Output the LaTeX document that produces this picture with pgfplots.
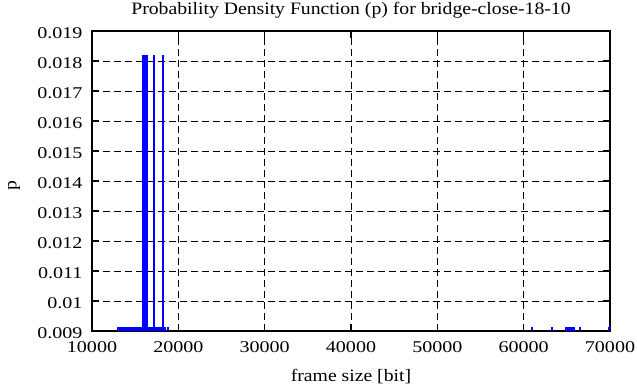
\documentclass[border=0pt]{standalone}
\usepackage{pgfplots}
\pgfplotsset{compat=1.18}
\usepackage{fontspec}
\setmainfont{Liberation Serif}
\newfontfamily\tickfont[FakeStretch=1.22]{Liberation Serif}
\newfontfamily\labfont[FakeStretch=1.13]{Liberation Serif}
\begin{document}
\begin{tikzpicture}
\begin{axis}[
  scale only axis,
  width=518bp, height=300bp,
  xmin=10000, xmax=70000,
  ymin=0.009, ymax=0.019,
  scaled ticks=false,
  /pgf/number format/assume math mode=true,
  xtick={10000,20000,30000,40000,50000,60000,70000},
  xticklabels={10000,20000,30000,40000,50000,60000,70000},
  ytick={0.009,0.010,0.011,0.012,0.013,0.014,0.015,0.016,0.017,0.018,0.019},
  yticklabels={0.009,0.01,0.011,0.012,0.013,0.014,0.015,0.016,0.017,0.018,0.019},
  tick align=inside,
  major tick length=7bp,
  tick style={line width=1.5bp, black},
  axis line style={line width=2bp},
  grid=major,
  major grid style={black, line width=0.9bp, dash pattern=on 7bp off 4bp},
  tick label style={font=\tickfont\fontsize{16.5}{18}\selectfont},
  label style={font=\labfont\fontsize{17.5}{19}\selectfont},
  every axis title shift=0pt,
  title style={font=\labfont\fontsize{17.5}{19}\selectfont, at={(axis description cs:0.5,1)}, anchor=base, yshift=16bp},
  title={Probability Density Function (p) for bridge-close-18-10},
  xlabel={frame size [bit]},
  ylabel={p},
  xlabel style={at={(axis description cs:0.5,0)}, anchor=base, yshift=-50bp},
  ylabel style={at={(axis description cs:0,0.5)}, anchor=center, yshift=78bp, xshift=-5bp},
  xticklabel style={anchor=center, yshift=-16.5bp},
  yticklabel style={xshift=-6bp, yshift=-2bp},
  clip=true,
]
% main spikes
\addplot[ycomb, blue, line width=2bp, mark=none] coordinates {
 (15950,0.0182) (16050,0.0182) (16150,0.0182) (16250,0.0182) (16350,0.0182)
 (17180,0.0182) (18220,0.0182)
};
% small values (near the bottom edge)
\addplot[ycomb, blue, line width=2bp, mark=none] coordinates {
 (13050,0.00912) (13150,0.00912) (13250,0.00912) (13350,0.00912) (13450,0.00912)
 (13550,0.00912) (13650,0.00912) (13750,0.00912) (13850,0.00912) (13950,0.00912)
 (14050,0.00912) (14150,0.00912) (14250,0.00912) (14350,0.00912) (14450,0.00912)
 (14550,0.00912) (14650,0.00912) (14750,0.00912) (14850,0.00912) (14950,0.00912)
 (15050,0.00912) (15150,0.00912) (15250,0.00912) (15350,0.00912) (15450,0.00912)
 (15550,0.00912) (15650,0.00912) (15750,0.00912) (15850,0.00912)
 (16450,0.00912) (16550,0.00912) (16650,0.00912) (16750,0.00912) (16850,0.00912)
 (16950,0.00912) (17050,0.00912) (17250,0.00912) (17350,0.00912) (17450,0.00912)
 (17550,0.00912) (17650,0.00912) (17750,0.00912) (17850,0.00912) (17950,0.00912)
 (18050,0.00912) (18150,0.00912) (18300,0.00912) (18400,0.00912) (18750,0.00912)
 (60930,0.00912) (63250,0.00912)
 (64900,0.00912) (65000,0.00912) (65100,0.00912) (65200,0.00912)
 (65480,0.00912) (65580,0.00912) (65680,0.00912) (65800,0.00912)
 (66530,0.00912) (69920,0.00912)
};
\end{axis}
\pgfresetboundingbox
\path[use as bounding box] ([shift={(-92bp,-56bp)}]current axis.south west) rectangle ([shift={(27bp,31bp)}]current axis.north east);
\end{tikzpicture}
\end{document}
